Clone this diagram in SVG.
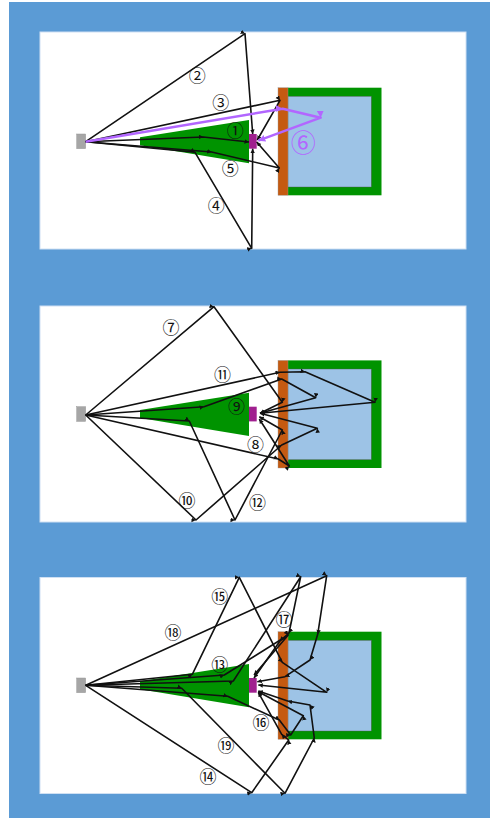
<svg xmlns="http://www.w3.org/2000/svg" width="490" height="818" viewBox="0 0 490 818">
<defs>
<marker id="a" markerUnits="userSpaceOnUse" markerWidth="6" markerHeight="6" refX="4.5" refY="2.25" orient="auto"><path d="M0 0L4.5 2.25L0 4.5z" fill="#111"/></marker>
<marker id="p" markerUnits="userSpaceOnUse" markerWidth="10" markerHeight="10" refX="7" refY="3.5" orient="auto"><path d="M0 0L7 3.5L0 7z" fill="#b266ff"/></marker>
<g id="scene">
<rect class="src" x="76.7" y="134" width="9" height="14.7"/>
<path class="wedge" d="M140 137.3L249 120V163.3L140 145.3z"/>
<rect class="det" x="249" y="134" width="7.7" height="14.7"/>
<rect class="wall" x="288" y="87.7" width="93.5" height="107.6"/>
<rect class="room" x="288" y="96.3" width="83.3" height="90.7"/>
<rect class="slab" x="278" y="87.7" width="10" height="107.6"/>
</g>
</defs>
<style>
.src{fill:#a6a6a6;stroke:#999;stroke-width:.5}
.wedge,.wall{fill:#009300}
.det{fill:#a0208f}
.room{fill:#9dc3e6;stroke:#555;stroke-width:.4}
.slab{fill:#c55a11;stroke:#999;stroke-width:.4}
.panel{fill:#fff;stroke:#cfe0f3;stroke-width:1}
.ray{fill:none;stroke:#111;stroke-width:1.6;stroke-linejoin:round;marker-mid:url(#a);marker-end:url(#a)}
.ray6{fill:none;stroke:#b266ff;stroke-width:2.5;stroke-linejoin:round;marker-mid:url(#p);marker-end:url(#p)}
text{font-family:"Noto Sans CJK JP","DejaVu Sans",sans-serif;font-size:17px;text-anchor:middle;dominant-baseline:central;fill:#111}
</style>
<rect x="9" y="2" width="481" height="816" fill="#5b9bd5"/>
<rect class="panel" x="40" y="32" width="426" height="217"/>
<rect class="panel" x="40" y="306" width="426" height="216"/>
<rect class="panel" x="40" y="577.5" width="426" height="216"/>
<g id="scene-1"><use href="#scene"/></g>
<g id="scene-2"><use href="#scene" y="272.7"/></g>
<g id="scene-3"><use href="#scene" y="544"/></g>
<g id="connectors">
<polyline class="ray" points="85.7,141.7 203.3,137 249,142"/>
<polyline class="ray" points="85.7,141.7 245,33.7 252.7,134"/>
<polyline class="ray" points="85.7,141.7 280,100.3 257.3,140"/>
<polyline class="ray" points="85.7,141.7 195,152.3 251.7,248.3 252.7,148.7"/>
<polyline class="ray" points="85.7,141.7 211.7,152 279.3,168 256.7,142"/>
<polyline class="ray6" points="85.7,141.7 282.7,108.7 320.7,117.7 258.3,140.7"/>
<polyline class="ray" points="85.7,415 214,306.7 282.3,402.3 260,413.3"/>
<polyline class="ray" points="85.7,415 278.3,459 289.3,466 259.3,419"/>
<polyline class="ray" points="85.7,415 204,406.7 281.7,379 315.7,397.7 260,413.3"/>
<polyline class="ray" points="85.7,415 196,520 281.7,445 317.3,428.3 260,413.3"/>
<polyline class="ray" points="85.7,415 280,372.3 305,371.7 375,402.3 260,413.3"/>
<polyline class="ray" points="85.7,415 189.3,421 235,520 282.3,430 259.3,416.7"/>
<polyline class="ray" points="85.7,685.3 224.3,675 288.3,635 254,675"/>
<polyline class="ray" points="85.7,685.3 251.7,792.7 288.7,740 281.7,734.3 258.3,692.3"/>
<polyline class="ray" points="85.7,685.3 192.3,674.3 239.3,577.3 282.3,662.3 326.7,692.3 258.3,685"/>
<polyline class="ray" points="85.7,685.3 227.7,696.3 279.3,720 290.7,735 303.3,715.7 258.3,691.7"/>
<polyline class="ray" points="85.7,685.3 233.3,681 300.7,576.7 289,633 280,641 254,678"/>
<polyline class="ray" points="85.7,685.3 326.7,575.7 317.7,634.3 310,660 285,676.7 257.3,681.7"/>
<polyline class="ray" points="85.7,685.3 181.7,688.3 285,793.3 314.3,738 310,705 287.7,701 258.3,691"/>
</g>
<g id="labels" transform="translate(0 -1)">
<text x="235.3" y="130.3">①</text><text x="197.3" y="75.7">②</text><text x="220.7" y="102.7">③</text><text x="216.3" y="205.7">④</text><text x="230.3" y="168">⑤</text>
<text x="303.3" y="141.7" style="font-size:25px;fill:#b266ff">⑥</text>
<text x="171" y="327">⑦</text><text x="255.5" y="444.5">⑧</text><text x="236.5" y="406.5">⑨</text><text x="187" y="500">⑩</text><text x="222.5" y="374.5">⑪</text><text x="257.5" y="502.5">⑫</text>
<text x="219.7" y="664.5">⑬</text><text x="208" y="776.5">⑭</text><text x="219.7" y="596.5">⑮</text><text x="261" y="722">⑯</text><text x="284" y="619.5">⑰</text><text x="173" y="632">⑱</text><text x="226" y="745">⑲</text>
</g>
</svg>
